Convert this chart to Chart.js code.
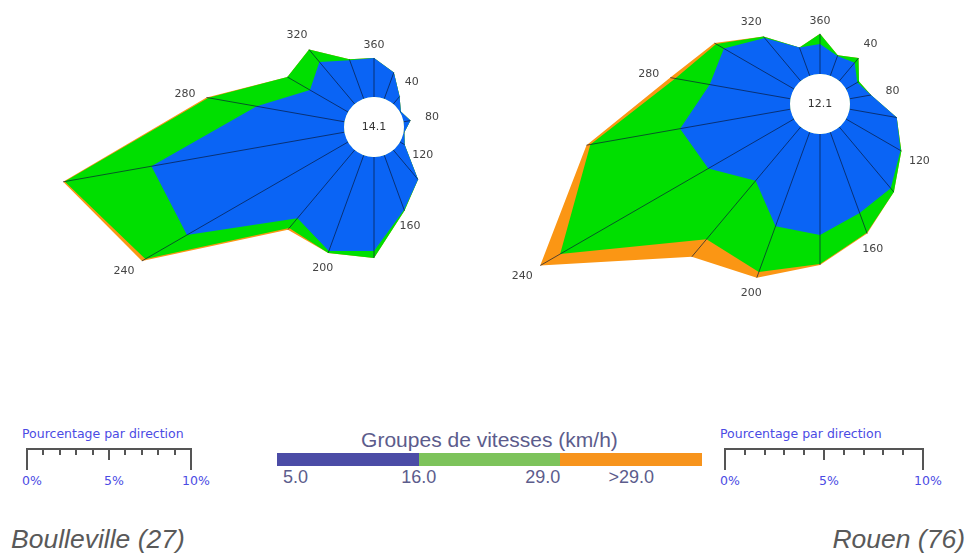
<!DOCTYPE html>
<html lang="fr">
<head>
<meta charset="utf-8">
<title>Roses des vents</title>
<script src="https://cdn.jsdelivr.net/npm/chart.js@4.4.1/dist/chart.umd.min.js"></script>
<style>
  html, body { margin: 0; padding: 0; }
  body { width: 968px; height: 553px; position: relative; overflow: hidden; background: #fff;
         font-family: "DejaVu Sans", Verdana, sans-serif; }
  .rose { position: absolute; }
  #boxLeft { left: 0; top: -20px; width: 760px; height: 320px; }
  #boxRight { left: 480px; top: -80px; width: 680px; height: 380px; }
  .pct-title { position: absolute; top: 426px; font-size: 12.5px; line-height: 16px; color: #4b4be4; white-space: nowrap; }
  .pct-bar { position: absolute; top: 448px; height: 0; border-top: 2px solid #555; }
  .tick { position: absolute; top: -2px; width: 0; border-left: 2px solid #555; }
  .pct-label { position: absolute; top: 473px; font-size: 12.5px; line-height: 16px; color: #4b4be4; transform: translateX(-50%); }
  #speedTitle { position: absolute; left: 277px; width: 425px; top: 428px; text-align: center;
                font: 21px "Liberation Sans", Arial, sans-serif; line-height: 24px; color: #5c5c8c; }
  #speedBar { position: absolute; left: 277px; top: 453px; width: 425px; height: 13px; display: flex; }
  #speedBar div { flex: 1; }
  .speed-label { position: absolute; top: 466px; font: 18px "Liberation Sans", Arial, sans-serif; line-height: 22px; color: #5c5c8c; white-space: nowrap; }
  .station { position: absolute; top: 524px; font: italic 26.5px "Liberation Sans", Arial, sans-serif; line-height: 30px; color: #595959; }
</style>
</head>
<body>
<div class="rose" id="boxLeft"><canvas id="roseLeft"></canvas></div>
<div class="rose" id="boxRight"><canvas id="roseRight"></canvas></div>
<div id="speedTitle">Groupes de vitesses (km/h)</div>
<div id="speedBar"></div>
<div class="station" style="left:11px">Boulleville (27)</div>
<div class="station" style="right:3px">Rouen (76)</div>

<script>
// directions, clockwise from north, every 20 degrees
const directions = ['360', '20', '40', '60', '80', '100', '120', '140', '160',
  '180', '200', '220', '240', '260', '280', '300', '320', '340'];
const directionTicks = ['40', '80', '120', '160', '200', '240', '280', '320', '360'];
const percentTicks = [0, 5, 10];
const speedGroups = ['5.0', '16.0', '29.0', '>29.0'];
const speedColors = ['#4b4ca6', '#7dc35b', '#f7941d'];
const roseColors = ['#0a64f5', '#00df00', '#fb9614'];

// Boulleville (27) - % per direction and speed group
const boullevilleCalm = 14.1;
const boullevilleSlow = [2.38, 1.71, 0.6, 0.06, 0.43, 0.05, 0.33, 2.35, 3.54, 5.73,
  6.22, 5.43, 11.34, 11.95, 5.43, 2.68, 3.35, 2.5];
const boullevilleMid = [0, 0, 0, 0, 0, 0, 0, 0, 0.06, 0.43,
  0.12, 0.79, 2.93, 5.37, 2.99, 1.59, 0.98, 0.06];
const boullevilleFast = [0, 0, 0, 0, 0, 0, 0, 0, 0, 0,
  0, 0.12, 0.24, 0.1, 0.12, 0, 0, 0];

// Rouen (76)
const rouenCalm = 12.1;
const rouenSlow = [1.52, 1.06, 1.21, 0.66, 1.1, 2.42, 3.18, 4.04, 4.34, 5.1,
  5.05, 3.54, 5.0, 5.66, 4.14, 4.09, 2.83, 1.52];
const rouenMid = [0.51, 0.05, 0.3, 0.1, 0, 0, 0.05, 0.25, 1.06, 1.46,
  2.47, 3.86, 8.64, 4.6, 1.77, 0.45, 0.1, 0];
const rouenFast = [0, 0, 0, 0, 0, 0, 0, 0, 0.05, 0.05,
  0.3, 1.16, 1.16, 0.2, 0.25, 0.1, 0, 0];

const centreRadius = 30;

function cumulate(...series) {
  let run = directions.map(() => 0);
  return series.map(s => (run = run.map((v, i) => v + s[i])));
}

const rosePlugin = {
  id: 'rose',
  afterDatasetsDraw(chart, args, opts) {
    const scale = chart.scales.r;
    const ctx = chart.ctx;
    const sets = chart.data.datasets;
    const outer = sets[sets.length - 1].data;
    ctx.save();
    ctx.strokeStyle = 'rgba(8, 24, 56, 0.85)';
    ctx.lineWidth = 0.8;
    outer.forEach((v, i) => {
      const a = scale.getPointPositionForValue(i, 0);
      const b = scale.getPointPositionForValue(i, v);
      ctx.beginPath();
      ctx.moveTo(a.x, a.y);
      ctx.lineTo(b.x, b.y);
      ctx.stroke();
    });
    ctx.fillStyle = '#fff';
    ctx.beginPath();
    ctx.arc(scale.xCenter, scale.yCenter, scale.getDistanceFromCenterForValue(0), 0, Math.PI * 2);
    ctx.fill();
    ctx.font = '11px "DejaVu Sans"';
    ctx.textAlign = 'center';
    ctx.textBaseline = 'middle';
    ctx.fillStyle = '#333';
    ctx.fillText(opts.calm.toFixed(1), scale.xCenter, scale.yCenter);
    ctx.fillStyle = '#444';
    directionTicks.forEach(lbl => {
      const i = directions.indexOf(lbl);
      const d = scale.getDistanceFromCenterForValue(outer[i]);
      const p = scale.getPointPosition(i, d);
      const ux = (p.x - scale.xCenter) / d;
      const q = scale.getPointPosition(i, d + 13 + 9 * Math.abs(ux));
      ctx.fillText(lbl, q.x, q.y);
    });
    ctx.restore();
  }
};

function makeRose(id, calm, slow, mid, fast, pxPerPct, padding) {
  const stacked = cumulate(slow, mid, fast);
  return new Chart(document.getElementById(id), {
    type: 'radar',
    data: {
      labels: directions,
      datasets: stacked.map((data, k) => ({
        label: speedGroups[k],
        data,
        backgroundColor: roseColors[k],
        borderWidth: 0,
        pointRadius: 0,
        fill: 'origin',
        clip: false
      }))
    },
    options: {
      responsive: true,
      maintainAspectRatio: false,
      animation: false,
      events: [],
      layout: { padding },
      plugins: { legend: { display: false }, tooltip: { enabled: false }, rose: { calm } },
      elements: { line: { tension: 0 } },
      scales: {
        r: {
          display: false,
          afterFit(scale) {
            scale.min = -centreRadius / pxPerPct;
            scale.max = scale.min + scale.drawingArea / pxPerPct;
          }
        }
      }
    },
    plugins: [rosePlugin]
  });
}

makeRose('roseLeft', boullevilleCalm, boullevilleSlow, boullevilleMid, boullevilleFast, 16.4,
  { left: 50, right: 62, top: 0, bottom: 26 });
makeRose('roseRight', rouenCalm, rouenSlow, rouenMid, rouenFast, 19.8,
  { left: 0, right: 0, top: 0, bottom: 12 });

function el(cls, parent = document.body) {
  const d = document.createElement('div');
  d.className = cls;
  parent.appendChild(d);
  return d;
}

function buildPctScale(left, ppp) {
  const title = el('pct-title');
  title.style.left = (left - 5) + 'px';
  title.textContent = 'Pourcentage par direction';
  const bar = el('pct-bar');
  bar.style.left = left + 'px';
  bar.style.width = (10 * ppp) + 'px';
  for (let k = 0; k <= 10; k++) {
    const t = el('tick', bar);
    t.style.left = (k * ppp - 1) + 'px';
    t.style.height = (k % 10 === 0 ? 22 : k === 5 ? 12 : 7) + 'px';
  }
  percentTicks.forEach(v => {
    const l = el('pct-label');
    l.style.left = (left + v * ppp + 5) + 'px';
    l.textContent = v + '%';
  });
}
buildPctScale(27, 16.4);
buildPctScale(725, 19.8);

// speed group colour bar
const speedBar = document.getElementById('speedBar');
speedColors.forEach(c => { el('', speedBar).style.background = c; });
const barLeft = 277, segW = 425 / 3;
const anchors = [
  { x: barLeft + 6, align: 'start' },
  { x: barLeft + segW, align: 'center' },
  { x: barLeft + 2 * segW, align: 'end' },
  { x: barLeft + 2.5 * segW, align: 'center' }
];
speedGroups.forEach((txt, i) => {
  const l = el('speed-label');
  l.textContent = txt;
  l.style.left = anchors[i].x + 'px';
  const shift = anchors[i].align === 'start' ? '0' : anchors[i].align === 'center' ? '-50%' : '-100%';
  l.style.transform = 'translateX(' + shift + ')';
});
</script>
</body>
</html>
